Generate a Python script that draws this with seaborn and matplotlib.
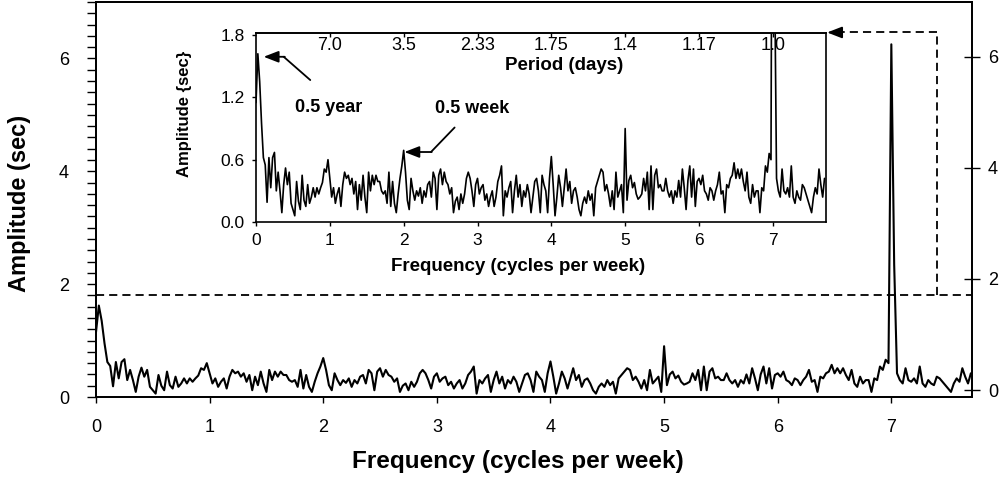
import numpy as np
import pandas as pd
import matplotlib
matplotlib.use("Agg")
import matplotlib.pyplot as plt
import seaborn as sns

# ---------------- data (amplitude in sec, sampled every 0.025 cycles/week) ----------------
FREQ_STEP = 0.025
amp_0_1 = [1.15, 1.62, 1.35, 0.95, 0.62, 0.55, 0.19, 0.62, 0.33, 0.62,
           0.67, 0.30, 0.48, 0.30, 0.09, 0.36, 0.52, 0.36, 0.48, 0.18,
           0.12, 0.06, 0.39, 0.20, 0.12, 0.45, 0.21, 0.15, 0.36, 0.18,
           0.24, 0.33, 0.24, 0.33, 0.27, 0.33, 0.38, 0.51, 0.48, 0.60]
amp_1_2 = [0.42, 0.24, 0.33, 0.18, 0.27, 0.33, 0.15, 0.36, 0.48, 0.42,
           0.45, 0.36, 0.42, 0.27, 0.39, 0.12, 0.36, 0.21, 0.45, 0.24,
           0.09, 0.48, 0.30, 0.45, 0.36, 0.45, 0.39, 0.39, 0.30, 0.27,
           0.30, 0.18, 0.48, 0.15, 0.39, 0.18, 0.09, 0.27, 0.42, 0.54]
amp_2_3 = [0.69, 0.48, 0.21, 0.12, 0.42, 0.30, 0.21, 0.30, 0.25, 0.33,
           0.18, 0.30, 0.24, 0.36, 0.39, 0.24, 0.48, 0.42, 0.12, 0.45,
           0.51, 0.36, 0.48, 0.39, 0.36, 0.27, 0.33, 0.09, 0.20, 0.24,
           0.12, 0.27, 0.18, 0.27, 0.42, 0.48, 0.42, 0.30, 0.15, 0.36]
amp_3_4 = [0.42, 0.27, 0.33, 0.36, 0.21, 0.27, 0.15, 0.24, 0.30, 0.15,
           0.24, 0.39, 0.45, 0.54, 0.06, 0.30, 0.24, 0.33, 0.39, 0.09,
           0.30, 0.45, 0.24, 0.36, 0.15, 0.30, 0.24, 0.36, 0.27, 0.09,
           0.24, 0.39, 0.42, 0.30, 0.09, 0.45, 0.36, 0.30, 0.09, 0.42]
amp_4_5 = [0.63, 0.36, 0.06, 0.24, 0.45, 0.33, 0.15, 0.33, 0.51, 0.30,
           0.39, 0.18, 0.30, 0.33, 0.24, 0.12, 0.06, 0.18, 0.24, 0.18,
           0.30, 0.21, 0.27, 0.06, 0.33, 0.39, 0.45, 0.51, 0.48, 0.30,
           0.36, 0.27, 0.15, 0.30, 0.12, 0.48, 0.24, 0.30, 0.36, 0.09]
amp_5_6 = [0.90, 0.21, 0.40, 0.45, 0.33, 0.38, 0.27, 0.22, 0.24, 0.27,
           0.42, 0.30, 0.48, 0.12, 0.54, 0.12, 0.45, 0.51, 0.33, 0.36,
           0.30, 0.30, 0.42, 0.30, 0.24, 0.30, 0.18, 0.30, 0.24, 0.40,
           0.24, 0.51, 0.33, 0.12, 0.40, 0.54, 0.24, 0.51, 0.15, 0.39]
amp_6_7 = [0.42, 0.36, 0.45, 0.30, 0.27, 0.21, 0.33, 0.30, 0.21, 0.30,
           0.36, 0.48, 0.27, 0.30, 0.09, 0.36, 0.33, 0.42, 0.45, 0.57,
           0.42, 0.51, 0.42, 0.51, 0.39, 0.30, 0.48, 0.24, 0.18, 0.36,
           0.24, 0.30, 0.30, 0.09, 0.33, 0.30, 0.54, 0.48, 0.66, 0.60]
amp_7_end = [6.25, 2.35, 0.42, 0.30, 0.24, 0.51, 0.30, 0.27, 0.33, 0.24,
             0.54, 0.24, 0.18, 0.30, 0.24, 0.21, 0.36, 0.33, 0.27, 0.21,
             0.15, 0.09, 0.24, 0.33, 0.27, 0.51, 0.36, 0.24, 0.42]

amplitude = amp_0_1 + amp_1_2 + amp_2_3 + amp_3_4 + amp_4_5 + amp_5_6 + amp_6_7 + amp_7_end
frequency = [round(i * FREQ_STEP, 3) for i in range(len(amplitude))]

main_xticks = [0, 1, 2, 3, 4, 5, 6, 7]
main_yticks = [0, 2, 4, 6]
inset_yticks = [0.0, 0.6, 1.2, 1.8]
inset_yticklabels = ["0.0", "0.6", "1.2", "1.8"]
period_freqs = [1, 2, 3, 4, 5, 6, 7]
period_labels = ["7.0", "3.5", "2.33", "1.75", "1.4", "1.17", "1.0"]
threshold = 1.8

df = pd.DataFrame({"Frequency": frequency, "Amplitude": amplitude})

# ---------------- style ----------------
sns.set_style("ticks")
plt.rcParams["font.family"] = ["Liberation Sans", "DejaVu Sans"]
plt.rcParams["axes.edgecolor"] = "black"
plt.rcParams["xtick.color"] = "black"
plt.rcParams["ytick.color"] = "black"
plt.rcParams["text.color"] = "black"
plt.rcParams["axes.labelcolor"] = "black"

W, H = 1005, 482
fig = plt.figure(figsize=(W / 100, H / 100), dpi=100)

# ---------------- main axes ----------------
ax = fig.add_axes([96 / W, (H - 397) / H, 876 / W, 395 / H])
sns.lineplot(data=df, x="Frequency", y="Amplitude", ax=ax, color="black",
             lw=1.5, estimator=None, sort=False)
ax.set_xlim(0, 7.71)
ax.set_ylim(0, 7.0)
ax.set_xticks(main_xticks)
ax.set_xticklabels([str(t) for t in main_xticks])
ax.set_yticks(main_yticks)
ax.set_yticklabels([str(t) for t in main_yticks])
ax.set_yticks(np.arange(0, 7.01, 0.2), minor=True)
ax.tick_params(axis="y", which="both", direction="out", length=6.5, width=1.0,
               labelsize=13, pad=13)
ax.tick_params(axis="x", direction="out", length=4.5, width=1.0, labelsize=13, pad=11)
ax.set_xlabel("Frequency (cycles per week)", fontsize=17.5, fontweight="bold")
ax.set_ylabel("Amplitude (sec)", fontsize=17, fontweight="bold")
ax.xaxis.set_label_coords(0.482, -0.135)
ax.yaxis.set_label_coords(-0.074, 0.49)
for s in ax.spines.values():
    s.set_linewidth(1.3)
    s.set_visible(True)

# right-hand axis
axr = ax.twinx()
axr.set_ylim(-0.126, 6.99)
axr.set_yticks(main_yticks)
axr.set_yticklabels([str(t) for t in main_yticks])
axr.tick_params(axis="y", direction="inout", length=11, width=1.0, labelsize=13, pad=6)
for s in axr.spines.values():
    s.set_linewidth(1.3)

# dashed guides linking the threshold to the inset
dash = (0, (4.5, 2.8))
ax.axhline(threshold, color="black", lw=1.3, ls=dash)
ax.plot([7.40, 7.40], [threshold, 6.46], color="black", lw=1.3, ls=dash)
ax.plot([7.40, 6.55], [6.46, 6.46], color="black", lw=1.3, ls=dash)
ax.annotate("", xy=(6.435, 6.46), xytext=(6.56, 6.46),
            arrowprops=dict(arrowstyle="-|>,head_length=0.9,head_width=0.35",
                            color="black", lw=1.3, shrinkA=0, shrinkB=0))

# ---------------- inset axes ----------------
ax_in = fig.add_axes([256 / W, (H - 222) / H, 570 / W, 189 / H])
ax_in.set_facecolor("white")
sns.lineplot(data=df, x="Frequency", y="Amplitude", ax=ax_in, color="black",
             lw=1.2, estimator=None, sort=False)
ax_in.set_xlim(0, 7.72)
ax_in.set_ylim(0, 1.82)
ax_in.set_xticks(main_xticks)
ax_in.set_xticklabels([str(t) for t in main_xticks])
ax_in.set_yticks(inset_yticks)
ax_in.set_yticklabels(inset_yticklabels)
ax_in.tick_params(axis="both", direction="out", length=3, width=1.0, labelsize=12.5, pad=5)
ax_in.set_xlabel("Frequency (cycles per week)", fontsize=13.5, fontweight="bold")
ax_in.set_ylabel("Amplitude {sec}", fontsize=12, fontweight="bold")
ax_in.xaxis.set_label_coords(0.46, -0.19)
ax_in.yaxis.set_label_coords(-0.112, 0.57)
for s in ax_in.spines.values():
    s.set_linewidth(1.2)
    s.set_visible(True)

# period axis on top (labels inside)
sec = ax_in.secondary_xaxis("top")
sec.set_xticks(period_freqs)
sec.set_xticklabels(period_labels)
sec.tick_params(direction="in", length=3, width=1.0, labelsize=13, pad=-15)
sec.spines["top"].set_linewidth(1.2)
ax_in.text(4.17, 1.51, "Period (days)", ha="center", va="center",
           fontsize=13.5, fontweight="bold")

# annotations
ax_in.text(0.53, 1.107, "0.5 year", ha="left", va="center", fontsize=13, fontweight="bold")
ax_in.plot([0.735, 0.375], [1.367, 1.591], color="black", lw=1.3)
ax_in.annotate("", xy=(0.104, 1.591), xytext=(0.39, 1.591),
               arrowprops=dict(arrowstyle="-|>,head_length=0.9,head_width=0.35",
                               color="black", lw=1.3, shrinkA=0, shrinkB=0))
ax_in.text(2.42, 1.097, "0.5 week", ha="left", va="center", fontsize=13, fontweight="bold")
ax_in.plot([2.69, 2.37], [0.91, 0.674], color="black", lw=1.3)
ax_in.annotate("", xy=(2.01, 0.674), xytext=(2.38, 0.674),
               arrowprops=dict(arrowstyle="-|>,head_length=0.9,head_width=0.35",
                               color="black", lw=1.3, shrinkA=0, shrinkB=0))

fig.savefig("out.png", dpi=100)
